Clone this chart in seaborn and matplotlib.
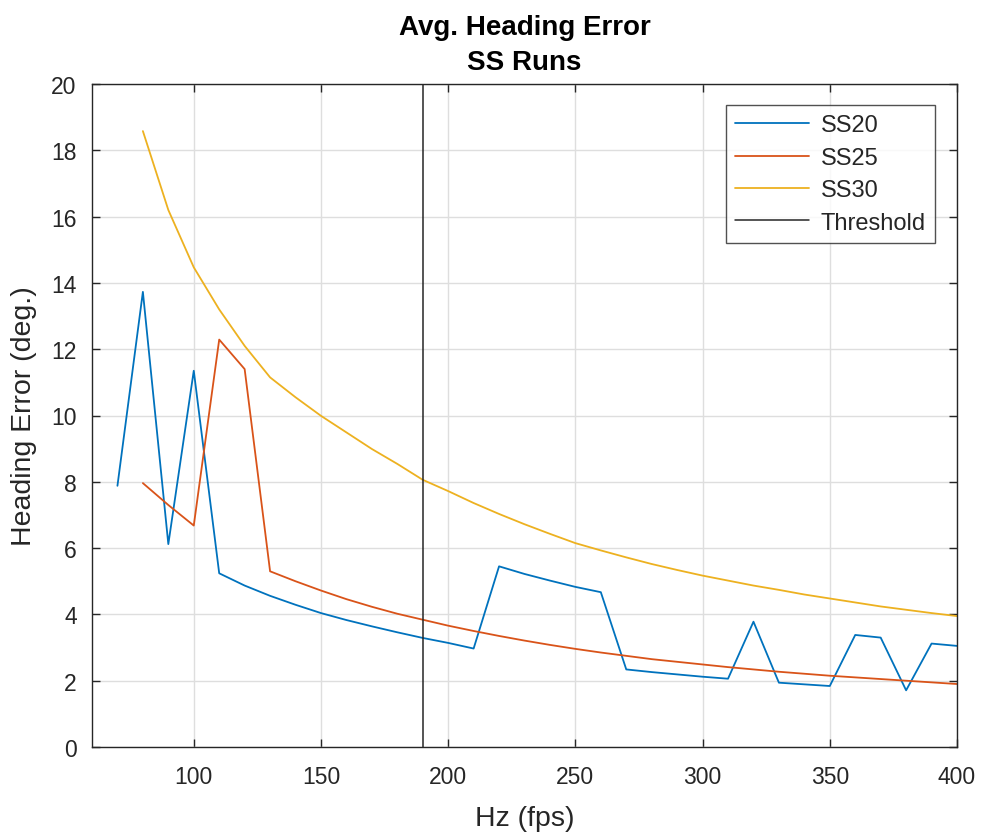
import numpy as np
import pandas as pd
import matplotlib
matplotlib.use("Agg")
import matplotlib.pyplot as plt
import seaborn as sns

# ---- data ----
hz_ss20 = [70, 80, 90, 100, 110, 120, 130, 140, 150, 160, 170, 180, 190, 200,
           210, 220, 230, 240, 250, 260, 270, 280, 290, 300, 310, 320, 330,
           340, 350, 360, 370, 380, 390, 400]
ss20 = [7.88, 13.73, 6.12, 11.35, 5.24, 4.87, 4.56, 4.29, 4.04, 3.83, 3.64,
        3.46, 3.29, 3.14, 2.97, 5.45, 5.22, 5.02, 4.83, 4.67, 2.34, 2.26,
        2.19, 2.12, 2.06, 3.78, 1.94, 1.89, 1.84, 3.38, 3.30, 1.71, 3.12, 3.05]

hz_ss25 = [80, 90, 100, 110, 120, 130, 140, 150, 160, 170, 180, 190, 200, 210,
           220, 230, 240, 250, 260, 270, 280, 290, 300, 310, 320, 330, 340,
           350, 360, 370, 380, 390, 400]
ss25 = [7.96, 7.30, 6.68, 12.29, 11.40, 5.30, 5.00, 4.72, 4.46, 4.23, 4.02,
        3.84, 3.66, 3.50, 3.35, 3.21, 3.08, 2.96, 2.85, 2.75, 2.65, 2.57,
        2.49, 2.41, 2.34, 2.27, 2.21, 2.15, 2.10, 2.05, 2.00, 1.95, 1.90]

hz_ss30 = hz_ss25
ss30 = [18.58, 16.20, 14.47, 13.20, 12.10, 11.15, 10.55, 9.99, 9.49, 8.99,
        8.54, 8.06, 7.72, 7.36, 7.03, 6.72, 6.43, 6.15, 5.93, 5.72, 5.52,
        5.34, 5.17, 5.02, 4.87, 4.74, 4.60, 4.48, 4.36, 4.24, 4.14, 4.04, 3.95]

threshold_hz = 190
threshold_y = [0, 20]

series_names = ["SS20", "SS25", "SS30"]
series_colors = ["#0072BD", "#D95319", "#EDB120"]

xticks = [100, 150, 200, 250, 300, 350, 400]
yticks = list(range(0, 21, 2))

# ---- build table ----
df = pd.concat([
    pd.DataFrame({"Hz": hz_ss20, "err": ss20, "series": "SS20"}),
    pd.DataFrame({"Hz": hz_ss25, "err": ss25, "series": "SS25"}),
    pd.DataFrame({"Hz": hz_ss30, "err": ss30, "series": "SS30"}),
])

sns.set_theme(style="white")
plt.rcParams["font.family"] = ["Liberation Sans", "DejaVu Sans"]

fig = plt.figure(figsize=(9.82, 8.37), dpi=100)
ax = fig.add_axes([92 / 982, 1 - 748 / 837, (957 - 92) / 982, (748 - 85) / 837])

sns.lineplot(data=df, x="Hz", y="err", hue="series", hue_order=series_names,
             palette=series_colors, linewidth=1.3, ax=ax, sort=False,
             estimator=None)
ax.plot([threshold_hz, threshold_hz], threshold_y, color="#262626",
        linewidth=1.1, label="Threshold")

axcol = "#262626"
ax.set_xlim(60, 400)
ax.set_ylim(0, 20)
ax.set_xticks(xticks)
ax.set_yticks(yticks)
ax.grid(True, color="#dedede", linewidth=1.0)
ax.set_axisbelow(True)
for s in ax.spines.values():
    s.set_visible(True)
    s.set_color(axcol)
    s.set_linewidth(1.0)
ax.tick_params(axis="both", which="both", direction="in", length=6,
               width=1.0, color=axcol, labelcolor=axcol, labelsize=16.5,
               top=True, right=True, bottom=True, left=True)
ax.tick_params(axis="x", pad=13)
ax.tick_params(axis="y", pad=11)

ax.set_xlabel("Hz (fps)", fontsize=20.5, color=axcol, labelpad=12)
ax.set_ylabel("Heading Error (deg.)", fontsize=20.5, color=axcol, labelpad=10)
ax.set_title("Avg. Heading Error\nSS Runs", fontsize=20, fontweight="bold",
             color="black", pad=11, linespacing=1.45)

handles, labels = ax.get_legend_handles_labels()
leg = ax.legend(handles, labels, loc="upper right", fontsize=17,
                frameon=True, fancybox=False, edgecolor=axcol,
                borderpad=0.4, borderaxespad=0.0, handlelength=3.1,
                handletextpad=0.5, labelspacing=0.44,
                bbox_to_anchor=(1 - 22 / 865, 1 - 21 / 663))
leg.get_frame().set_linewidth(1.0)
for t in leg.get_texts():
    t.set_color(axcol)

fig.savefig("out.png", dpi=100)
